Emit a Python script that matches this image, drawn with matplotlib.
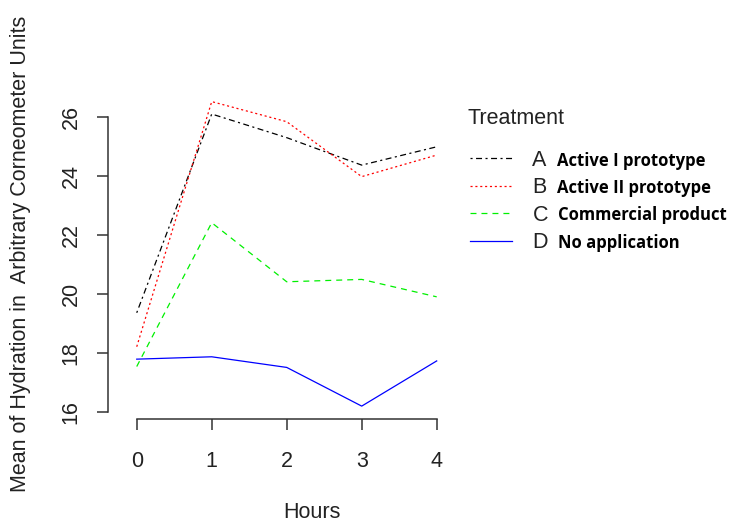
import matplotlib
matplotlib.use("Agg")
import matplotlib.pyplot as plt

plt.rcParams["font.family"] = ["Liberation Sans", "DejaVu Sans"]
plt.rcParams["lines.scale_dashes"] = False

hours = [0, 1, 2, 3, 4]
letters = ["A", "B", "C", "D"]
names = ["Active I prototype", "Active II prototype", "Commercial product", "No application"]
active1 = [19.37, 26.10, 25.30, 24.37, 24.99]
active2 = [18.22, 26.52, 25.84, 23.98, 24.71]
commercial = [17.55, 22.42, 20.42, 20.50, 19.91]
no_app = [17.80, 17.88, 17.52, 16.21, 17.74]

series = [active1, active2, commercial, no_app]
colors = ["black", "#ff0000", "#00f000", "#0000ff"]
dashes = [(1.5, 2.5, 4.3, 2.5), (1.5, 2.0), (4.3, 3.6), None]

W, H = 729, 524
FS = 15.5
fig = plt.figure(figsize=(W / 100, H / 100), dpi=100)

# axes box in pixels (left, top, right, bottom)
left, right = 108, 448.7
top, bottom = 96.3, 419.4
ax = fig.add_axes([left / W, 1 - bottom / H, (right - left) / W, (bottom - top) / H])

for vals, col, d, lab in zip(series, colors, dashes, letters):
    line, = ax.plot(hours, vals, color=col, lw=0.9, label=lab)
    if d is not None:
        line.set_dashes(d)

ax.set_xlim(-0.383, 4.16)
ax.set_ylim(15.76, 26.7)
ax.set_xticks(hours)
ax.set_yticks([16, 18, 20, 22, 24, 26])

for s in ["top", "right"]:
    ax.spines[s].set_visible(False)
ax.spines["left"].set_bounds(16, 26)
ax.spines["bottom"].set_bounds(0, 4)
for s in ["left", "bottom"]:
    ax.spines[s].set_color("#333333")
    ax.spines[s].set_linewidth(1.1)

ax.tick_params(axis="both", length=8, width=1.1, color="#333333", labelsize=FS, labelcolor="#222222")
ax.tick_params(axis="x", pad=15)
ax.tick_params(axis="y", pad=11, labelrotation=90)
for t in ax.get_yticklabels():
    t.set_va("center")

fig.text(20.5 / W, 1 - 254 / H, "Mean of Hydration in  Arbitrary Corneometer Units",
         rotation=90, ha="center", va="center", fontsize=FS, color="#222222")
fig.text(312 / W, 1 - 513 / H, "Hours", ha="center", va="center", fontsize=FS, color="#222222")

# legend
fig.text(467 / W, 1 - 118 / H, "Treatment", ha="left", va="center", fontsize=FS, color="#222222")
leg = fig.legend(loc="upper left", bbox_to_anchor=(470 / W, 1 - 150 / H), frameon=False,
                 fontsize=FS, borderpad=0, borderaxespad=0, handlelength=1.95,
                 handletextpad=0.95, labelspacing=0.3)
for t in leg.get_texts():
    t.set_color("#222222")

# bold treatment names next to the legend letters
fig.canvas.draw()
for t, name in zip(leg.get_texts(), names):
    bb = t.get_window_extent()
    fig.text((bb.x1 + 10) / W, (bb.y0 + bb.y1) / 2 / H, name, ha="left", va="center",
             fontsize=12, fontweight="bold", family=["Open Sans", "DejaVu Sans"], color="black")

fig.savefig("out.png", dpi=100)
